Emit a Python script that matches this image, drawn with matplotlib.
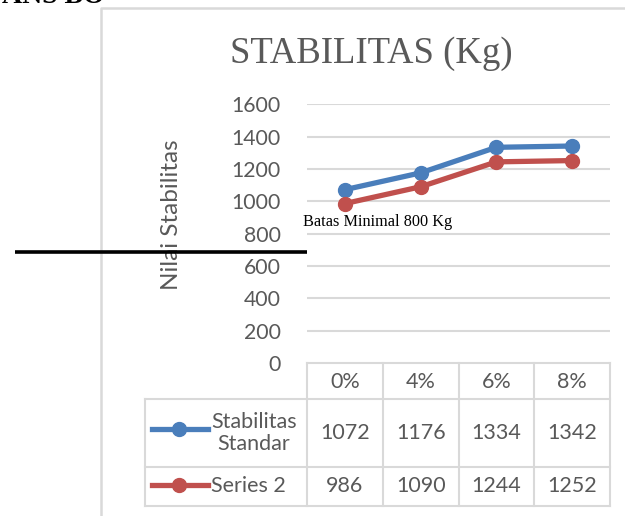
import matplotlib
matplotlib.use("Agg")
import matplotlib.pyplot as plt
from matplotlib.lines import Line2D

categories = ["0%", "4%", "6%", "8%"]
series_names = ["Stabilitas\nStandar", "Series 2"]
standar = [1072, 1176, 1334, 1342]
series2 = [986, 1090, 1244, 1252]
yticks = [0, 200, 400, 600, 800, 1000, 1200, 1400, 1600]
title = "STABILITAS (Kg)"
ylabel = "Nilai Stabilitas"
note = "Batas Minimal 800 Kg"

blue = "#4a7ebb"
red = "#c0504d"
grid = "#d9d9d9"
txt = "#595959"
sans = ["Lato", "DejaVu Sans"]
serif = ["Liberation Serif", "DejaVu Serif"]

W, H = 625, 516
fig = plt.figure(figsize=(W / 100, H / 100), dpi=100)

# overlay in pixel coordinates
ov = fig.add_axes([0, 0, 1, 1])
ov.set_xlim(0, W)
ov.set_ylim(H, 0)
ov.axis("off")

# plot area
px_l, px_r, px_top, px_bot = 307, 610, 104.3, 363
ax = fig.add_axes([px_l / W, 1 - px_bot / H, (px_r - px_l) / W, (px_bot - px_top) / H])
ax.set_xlim(-0.5, len(categories) - 0.5)
ax.set_ylim(0, 1600)
for s in ax.spines.values():
    s.set_visible(False)
ax.set_xticks([])
ax.set_yticks(yticks)
ax.set_yticklabels([str(v) for v in yticks], fontfamily=sans, fontsize=15.3, color=txt)
ax.tick_params(axis="y", length=0, pad=19)
for v in yticks[1:]:
    ax.axhline(v, color=grid, lw=1.5, zorder=0)
ax.patch.set_alpha(0)

xs = list(range(len(categories)))
ax.plot(xs, standar, color=blue, lw=3.8, marker="o", ms=10, zorder=3, clip_on=False)
ax.plot(xs, series2, color=red, lw=3.8, marker="o", ms=10, zorder=3, clip_on=False)

# chart frame
ov.plot([101, 101, W + 5], [H + 5, 8, 8], color=grid, lw=1.8)

# title
ov.text(371, 54, title, ha="center", va="center", fontfamily=serif, fontsize=26.5, color=txt)

# y label
ov.text(171, 215, ylabel, ha="center", va="center", rotation=90, fontfamily=sans,
        fontsize=17.5, color=txt)

# note and stray line
ov.text(303, 222, note, ha="left", va="center", fontfamily=serif, fontsize=11.7, color="black")
ov.plot([15, 307], [252, 252], color="black", lw=2.6, solid_capstyle="butt", zorder=5)

# cut-off text at top
ov.text(2, 3, "ANS BO", ha="left", va="baseline", fontfamily=serif, fontsize=20,
        fontweight="bold", color="black")

# data table
colw = (px_r - px_l) / len(categories)
col_edges = [px_l + i * colw for i in range(len(categories) + 1)]
tbl_left = 145
r0, r1, r2, r3 = 363, 399, 467, 505.5
lc = grid
lw = 1.5
ov.plot([px_l, px_r], [r0, r0], color=lc, lw=lw)
for y in (r1, r2, r3):
    ov.plot([tbl_left, px_r], [y, y], color=lc, lw=lw)
for x in col_edges:
    ov.plot([x, x], [r0, r3], color=lc, lw=lw)
ov.plot([tbl_left, tbl_left], [r1, r3], color=lc, lw=lw)

fs = 15.5
for i, c in enumerate(categories):
    cx = (col_edges[i] + col_edges[i + 1]) / 2
    ov.text(cx, (r0 + r1) / 2 + 1, c, ha="center", va="center", fontfamily=sans,
            fontsize=fs, color=txt)

rows = [(standar, blue, (r1 + r2) / 2), (series2, red, (r2 + r3) / 2)]
for (vals, col, cy), name in zip(rows, series_names):
    ly = cy - 4 if "\n" in name else cy - 1
    ov.add_line(Line2D([152, 208], [ly, ly], color=col, lw=3.8))
    ov.plot([179], [ly], marker="o", ms=10, color=col)
    ov.text(211, cy, name, ha="left", va="center", multialignment="center",
            fontfamily=sans, fontsize=fs, color=txt, linespacing=1.1)
    for i, v in enumerate(vals):
        cx = (col_edges[i] + col_edges[i + 1]) / 2
        ov.text(cx, cy, str(v), ha="center", va="center", fontfamily=sans,
                fontsize=fs, color=txt)

fig.savefig("out.png", dpi=100)
